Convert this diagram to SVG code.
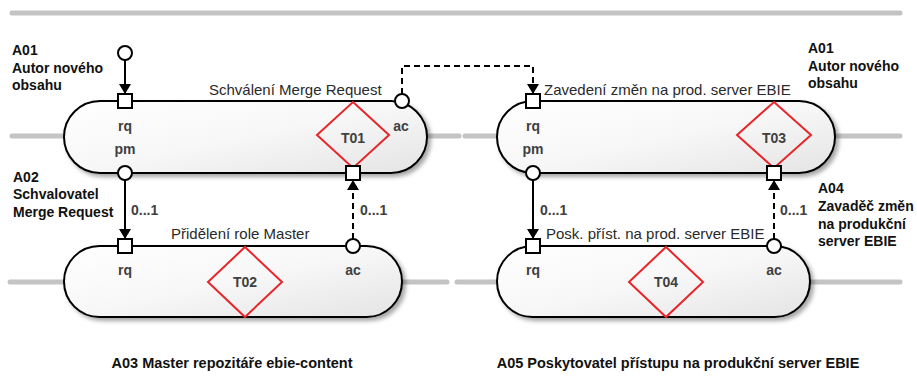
<svg xmlns="http://www.w3.org/2000/svg" width="917" height="378" viewBox="0 0 917 378">
  <defs>
    <linearGradient id="capFill" x1="0" y1="0" x2="1" y2="1">
      <stop offset="0" stop-color="#ffffff"/>
      <stop offset="0.5" stop-color="#f7f7f7"/>
      <stop offset="1" stop-color="#e4e4e4"/>
    </linearGradient>
    <filter id="shadow" x="-10%" y="-20%" width="125%" height="150%">
      <feDropShadow dx="3" dy="3" stdDeviation="2.2" flood-color="#000" flood-opacity="0.35"/>
    </filter>
    <marker id="arrow" viewBox="0 0 10 12" refX="10" refY="6" markerWidth="10" markerHeight="12" markerUnits="userSpaceOnUse" orient="auto">
      <path d="M0,0 L10,6 L0,12 Z" fill="#000"/>
    </marker>
    <style>
      .lane { stroke: #c4c4c4; stroke-width: 5; stroke-linecap: round; fill: none; }
      .cap { fill: url(#capFill); stroke: #000; stroke-width: 2; filter: url(#shadow); }
      .tx { fill: none; stroke: #e8262a; stroke-width: 2; }
      .port { fill: #fff; stroke: #000; stroke-width: 2; }
      .link { stroke: #000; stroke-width: 2; fill: none; }
      .dash { stroke-dasharray: 6 4; }
      .pname { font-family: "Liberation Sans", Arial, sans-serif; font-size: 15px; fill: #2a2a2a; }
      .plabel { font-family: "Liberation Sans", Arial, sans-serif; font-size: 14px; font-weight: bold; fill: #404040; text-anchor: middle; }
      .card { font-family: "Liberation Sans", Arial, sans-serif; font-size: 14px; font-weight: bold; fill: #404040; }
      .actor { font-family: "Liberation Sans", Arial, sans-serif; font-size: 14px; font-weight: bold; fill: #111; }
      .title { font-family: "Liberation Sans", Arial, sans-serif; font-size: 14.5px; font-weight: bold; fill: #111; text-anchor: middle; }
    </style>
  </defs>

  <rect width="917" height="378" fill="#fff"/>

  <!-- swim lanes -->
  <g id="lanes">
    <line class="lane" x1="12" y1="13" x2="900" y2="13"/>
    <line class="lane" x1="12" y1="136" x2="459" y2="136"/>
    <line class="lane" x1="465" y1="136" x2="900" y2="136"/>
    <line class="lane" x1="10" y1="282" x2="447" y2="282"/>
    <line class="lane" x1="457" y1="282" x2="900" y2="282"/>
  </g>

  <!-- T01 -->
  <g id="t01">
    <rect class="cap" x="64" y="101" width="363" height="72" rx="36" ry="36"/>
    <polygon class="tx" points="353,102 389,135 353,168 317,135"/>
    <text class="pname" x="209" y="95">Schválení Merge Request</text>
    <text class="plabel" x="125" y="131">rq</text>
    <text class="plabel" x="125" y="154">pm</text>
    <text class="plabel" x="401" y="131">ac</text>
    <text class="plabel" x="353" y="143">T01</text>
  </g>

  <!-- T02 -->
  <g id="t02">
    <rect class="cap" x="64" y="246" width="338" height="71" rx="35.5" ry="35.5"/>
    <polygon class="tx" points="245,247 282,282 245,317 208,282"/>
    <text class="pname" x="171" y="239">Přidělení role Master</text>
    <text class="plabel" x="125" y="275">rq</text>
    <text class="plabel" x="353" y="275">ac</text>
    <text class="plabel" x="245" y="287">T02</text>
  </g>

  <!-- T03 -->
  <g id="t03">
    <rect class="cap" x="497" y="101" width="338" height="72" rx="36" ry="36"/>
    <polygon class="tx" points="774,102 811,135 774,168 737,135"/>
    <text class="pname" x="544" y="95">Zavedení změn na prod. server EBIE</text>
    <text class="plabel" x="533" y="131">rq</text>
    <text class="plabel" x="533" y="154">pm</text>
    <text class="plabel" x="774" y="143">T03</text>
  </g>

  <!-- T04 -->
  <g id="t04">
    <rect class="cap" x="497" y="246" width="313" height="71" rx="35.5" ry="35.5"/>
    <polygon class="tx" points="666,247 703,282 666,317 629,282"/>
    <text class="pname" x="546" y="239">Posk. příst. na prod. server EBIE</text>
    <text class="plabel" x="533" y="275">rq</text>
    <text class="plabel" x="774" y="275">ac</text>
    <text class="plabel" x="666" y="287">T04</text>
  </g>

  <!-- links between transactions -->
  <g id="connectors">
    <line class="link" x1="125" y1="60" x2="125" y2="94" marker-end="url(#arrow)"/>
    <polyline class="link dash" points="402,94 402,66 533,66 533,94" marker-end="url(#arrow)"/>
    <line class="link" x1="125" y1="180" x2="125" y2="239" marker-end="url(#arrow)"/>
    <line class="link dash" x1="353" y1="239" x2="353" y2="180" marker-end="url(#arrow)"/>
    <line class="link" x1="533" y1="180" x2="533" y2="239" marker-end="url(#arrow)"/>
    <line class="link dash" x1="774" y1="239" x2="774" y2="180" marker-end="url(#arrow)"/>
    <text class="card" x="131" y="215">0...1</text>
    <text class="card" x="360" y="215">0...1</text>
    <text class="card" x="540" y="215">0...1</text>
    <text class="card" x="780" y="215">0...1</text>
  </g>

  <!-- ports -->
  <g id="ports">
    <circle class="port" cx="125" cy="53" r="7"/>
    <rect class="port" x="118" y="94" width="14" height="14"/>
    <circle class="port" cx="402" cy="101" r="7"/>
    <circle class="port" cx="125" cy="173" r="7"/>
    <rect class="port" x="346" y="166" width="14" height="14"/>
    <rect class="port" x="118" y="239" width="14" height="14"/>
    <circle class="port" cx="353" cy="246" r="7"/>
    <rect class="port" x="526" y="94" width="14" height="14"/>
    <circle class="port" cx="533" cy="173" r="7"/>
    <rect class="port" x="767" y="166" width="14" height="14"/>
    <rect class="port" x="526" y="239" width="14" height="14"/>
    <circle class="port" cx="774" cy="246" r="7"/>
  </g>

  <!-- actor roles -->
  <g id="a01-left">
    <text class="actor" x="12" y="55">A01</text>
    <text class="actor" x="12" y="72.5">Autor nového</text>
    <text class="actor" x="12" y="90">obsahu</text>
  </g>
  <g id="a02">
    <text class="actor" x="13" y="182">A02</text>
    <text class="actor" x="13" y="199">Schvalovatel</text>
    <text class="actor" x="13" y="216.5">Merge Request</text>
  </g>
  <g id="a01-right">
    <text class="actor" x="808" y="53">A01</text>
    <text class="actor" x="808" y="70.5">Autor nového</text>
    <text class="actor" x="808" y="88">obsahu</text>
  </g>
  <g id="a04">
    <text class="actor" x="818" y="193">A04</text>
    <text class="actor" x="818" y="211">Zavaděč změn</text>
    <text class="actor" x="818" y="228.5">na produkční</text>
    <text class="actor" x="818" y="246">server EBIE</text>
  </g>
  <g id="a03">
    <text class="title" x="232" y="368">A03 Master repozitáře ebie-content</text>
  </g>
  <g id="a05">
    <text class="title" x="678" y="368">A05 Poskytovatel přístupu na produkční server EBIE</text>
  </g>
</svg>
